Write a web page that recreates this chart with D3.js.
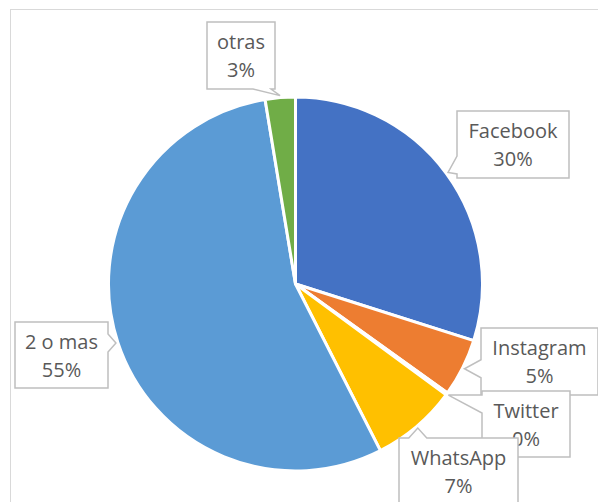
<!DOCTYPE html>
<html>
<head>
<meta charset="utf-8">
<script src="https://cdn.jsdelivr.net/npm/d3@7"></script>
<style>
  body { margin: 0; background: #fff; }
</style>
</head>
<body>
<svg id="chart"></svg>
<script>
// data (share of answers, clockwise from 12 o'clock)
var categories = ["Facebook", "Instagram", "Twitter", "WhatsApp", "2 o mas", "otras"];
var values = [29.9, 5.0, 0.2, 7.4, 54.9, 2.6];
var colors = ["#4472C4", "#ED7D31", "#A5A5A5", "#FFC000", "#5B9BD5", "#70AD47"];

// callout boxes were dragged by hand in the original: [x, y, w, h]
var labelBoxes = [
  [457, 111, 112, 67],
  [481, 328, 117, 67],
  [482, 391, 88, 66],
  [399, 438, 119, 70],
  [15, 322, 93, 66],
  [207, 22, 68, 67]
];

var width = 598,
    height = 502,
    cx = 295.5,
    cy = 284,
    radius = 187;

var svg = d3.select("#chart")
    .attr("width", width)
    .attr("height", height);

// chart area frame
svg.append("rect")
    .attr("x", 10.5)
    .attr("y", 9.5)
    .attr("width", width)
    .attr("height", height)
    .attr("fill", "#fff")
    .attr("stroke", "#d9d9d9")
    .attr("stroke-width", 1);

var total = d3.sum(values);
var pct = d3.format(".0%");

var pie = d3.pie().sort(null).value(function(d) { return d; });
var arcs = pie(values);

var arc = d3.arc().innerRadius(0).outerRadius(radius);

var g = svg.append("g")
    .attr("transform", "translate(" + cx + "," + cy + ")");

g.selectAll("path.slice")
    .data(arcs)
    .enter()
    .append("path")
    .attr("class", "slice")
    .attr("d", arc)
    .attr("fill", function(d, i) { return colors[i]; })
    .attr("stroke", "#fff")
    .attr("stroke-width", 3)
    .attr("stroke-linejoin", "round");

function clamp(v, a, b) { return Math.max(a, Math.min(b, v)); }

// box with a wedge pointing at (tx, ty)
function callout(b, tx, ty) {
  var x = b[0], y = b[1], w = b[2], h = b[3];
  var hw = 9, m = 4;
  var dx = tx < x ? x - tx : (tx > x + w ? tx - x - w : 0);
  var dy = ty < y ? y - ty : (ty > y + h ? ty - y - h : 0);
  var side;
  if (dx >= dy) side = tx < x ? "left" : "right";
  else side = ty < y ? "top" : "bottom";
  var c;
  var p = "M" + x + "," + y;
  if (side == "top") {
    c = clamp(tx, x + m + hw, x + w - m - hw);
    p += "L" + (c - hw) + "," + y + "L" + tx + "," + ty + "L" + (c + hw) + "," + y;
  }
  p += "L" + (x + w) + "," + y;
  if (side == "right") {
    c = clamp(ty, y + m + hw, y + h - m - hw);
    p += "L" + (x + w) + "," + (c - hw) + "L" + tx + "," + ty + "L" + (x + w) + "," + (c + hw);
  }
  p += "L" + (x + w) + "," + (y + h);
  if (side == "bottom") {
    c = clamp(tx, x + m + hw, x + w - m - hw);
    p += "L" + (c + hw) + "," + (y + h) + "L" + tx + "," + ty + "L" + (c - hw) + "," + (y + h);
  }
  p += "L" + x + "," + (y + h);
  if (side == "left") {
    c = clamp(ty, y + m + hw, y + h - m - hw);
    p += "L" + x + "," + (c + hw) + "L" + tx + "," + ty + "L" + x + "," + (c - hw);
  }
  return p + "Z";
}

var labels = svg.selectAll("g.label")
    .data(arcs)
    .enter()
    .append("g")
    .attr("class", "label");

labels.append("path")
    .attr("d", function(d, i) {
      var a = (d.startAngle + d.endAngle) / 2;
      var tx = cx + Math.sin(a) * (radius + 2);
      var ty = cy - Math.cos(a) * (radius + 2);
      return callout(labelBoxes[i], tx, ty);
    })
    .attr("fill", "#fff")
    .attr("stroke", "#bfbfbf")
    .attr("stroke-width", 1.5);

labels.append("text")
    .attr("x", function(d, i) { return labelBoxes[i][0] + labelBoxes[i][2] / 2; })
    .attr("y", function(d, i) { return labelBoxes[i][1] + 27; })
    .attr("text-anchor", "middle")
    .attr("font-family", "Open Sans, sans-serif")
    .attr("font-size", 20)
    .attr("fill", "#595959")
    .text(function(d, i) { return categories[i]; });

labels.append("text")
    .attr("x", function(d, i) { return labelBoxes[i][0] + labelBoxes[i][2] / 2; })
    .attr("y", function(d, i) { return labelBoxes[i][1] + 55; })
    .attr("text-anchor", "middle")
    .attr("font-family", "Open Sans, sans-serif")
    .attr("font-size", 20)
    .attr("fill", "#595959")
    .text(function(d) { return pct(d.data / total); });
</script>
</body>
</html>
